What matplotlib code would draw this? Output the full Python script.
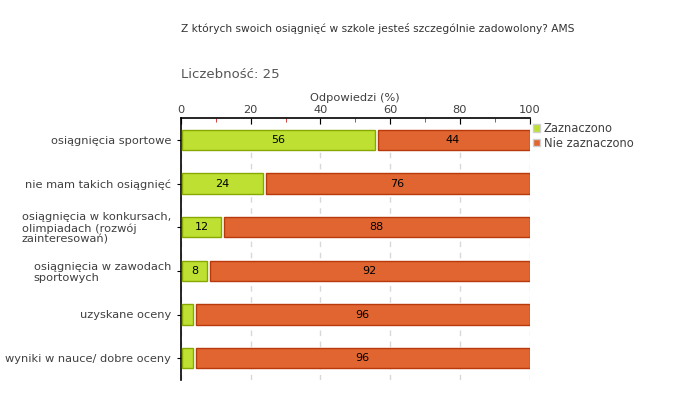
import matplotlib
matplotlib.use("Agg")
import matplotlib.pyplot as plt
from matplotlib.patches import Patch

# dane z wykresu
categories = [
    "osiągnięcia sportowe",
    "nie mam takich osiągnięć",
    "osiągnięcia w konkursach,\nolimpiadach (rozwój\nzainteresowań)",
    "osiągnięcia w zawodach\nsportowych",
    "uzyskane oceny",
    "wyniki w nauce/ dobre oceny",
]
zaznaczono = [56, 24, 12, 8, 4, 4]
nie_zaznaczono = [44, 76, 88, 92, 96, 96]
series_names = ["Zaznaczono", "Nie zaznaczono"]
green, green_edge = "#bde032", "#86a800"
orange, orange_edge = "#e06530", "#b83a0c"
txt = "#404040"

plt.rcParams["font.family"] = ["DejaVu Sans"]

fig = plt.figure(figsize=(6.8, 4.0), dpi=100)
ax = fig.add_axes([0.266, 0.05, 0.513, 0.655])

y = list(range(len(categories)))
h = 0.47
gap = 0.45
for i in y:
    z = zaznaczono[i]
    n = nie_zaznaczono[i]
    ax.barh(i, z - 2 * gap, left=gap, height=h, color=green,
            edgecolor=green_edge, linewidth=1, zorder=3)
    ax.barh(i, n - gap, left=z + gap, height=h, color=orange,
            edgecolor=orange_edge, linewidth=1, zorder=3)
    if z >= 8:
        ax.text(z / 2, i, str(z), ha="center", va="center", fontsize=8, color="black", zorder=4)
    ax.text(z + n / 2, i, str(n), ha="center", va="center", fontsize=8, color="black", zorder=4)

ax.set_xlim(0, 100)
ax.set_ylim(len(categories) - 0.5, -0.5)
ax.set_yticks(y)
ax.set_yticklabels(categories, fontsize=8.2, color=txt, linespacing=1.1)
for lab in ax.get_yticklabels():
    lab.set_multialignment("left")
ax.xaxis.tick_top()
ax.xaxis.set_label_position("top")
ax.set_xticks(range(0, 101, 20))
ax.set_xticks(range(10, 100, 20), minor=True)
ax.tick_params(axis="x", which="major", direction="in", length=4, color="black",
               labelsize=8.2, labelcolor=txt, pad=2)
ax.tick_params(axis="x", which="minor", direction="in", length=3, color="#d02020")
ax.tick_params(axis="y", direction="out", length=3, color="black", pad=4)
ax.set_xlabel("Odpowiedzi (%)", fontsize=8.2, color=txt, labelpad=3)

ax.grid(axis="x", which="major", color="#d8d8d8", linestyle=(0, (4, 4)), linewidth=1, zorder=0)
for s in ["right", "bottom"]:
    ax.spines[s].set_visible(False)
ax.spines["top"].set_linewidth(1.2)
ax.spines["left"].set_linewidth(1.2)

fig.text(181 / 680, 1 - 29 / 400, "Z których swoich osiągnięć w szkole jesteś szczególnie zadowolony? AMS",
         fontsize=7.7, color="#333333", va="center", ha="left")
fig.text(181 / 680, 1 - 75 / 400, "Liczebność: 25", fontsize=9.5, color="#555555",
         va="center", ha="left")

handles = [Patch(facecolor=green, edgecolor="#d0d0d0"), Patch(facecolor=orange, edgecolor="#d0d0d0")]
fig.legend(handles, series_names, loc="upper left", bbox_to_anchor=(0.772, 0.715),
           frameon=False, fontsize=8.3, handlelength=0.6, handleheight=0.6,
           handletextpad=0.35, labelspacing=0.15, labelcolor=txt, borderpad=0.2)

fig.savefig("out.png", dpi=100)
